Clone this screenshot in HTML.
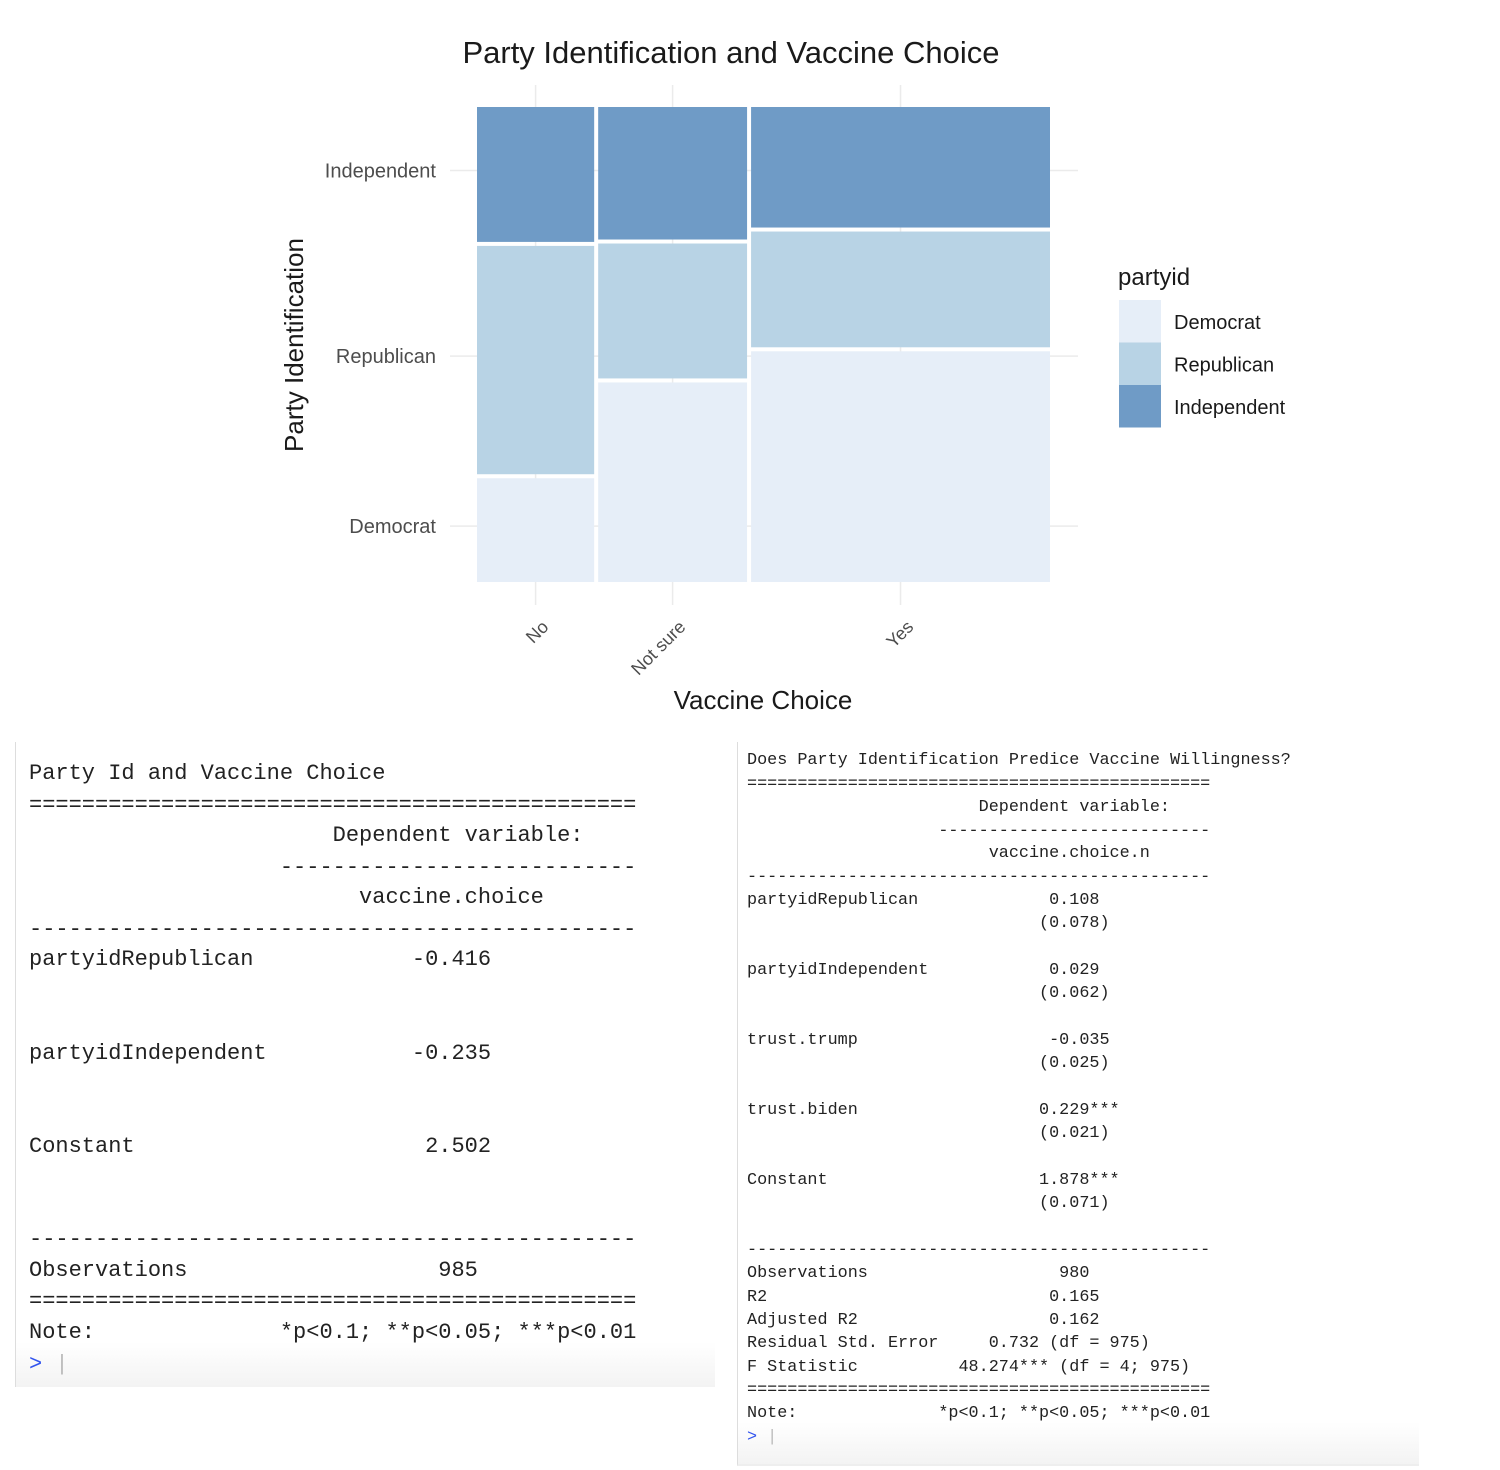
<!DOCTYPE html>
<html><head><meta charset="utf-8">
<style>
body{margin:0;background:#fff;width:1500px;height:1470px;position:relative;overflow:hidden;font-family:"Liberation Sans",sans-serif}
.tbl{position:absolute;font-family:"Liberation Mono",monospace;white-space:pre;color:#222}
.ln{position:absolute;left:0}
</style></head><body>
<svg width="1500" height="730" style="position:absolute;left:0;top:0" id="chart">
<text x="731" y="63" text-anchor="middle" font-size="31" fill="#1a1a1a">Party Identification and Vaccine Choice</text>
<text x="763" y="709" text-anchor="middle" font-size="26" fill="#1a1a1a">Vaccine Choice</text>
<text transform="translate(303,345) rotate(-90)" text-anchor="middle" font-size="26" fill="#1a1a1a">Party Identification</text>
<text x="1118" y="285" font-size="24" fill="#1a1a1a">partyid</text>
</svg>
<script>
const categories=["No","Not sure","Yes"];
const colWidths=[0.21,0.265,0.525];
const parties=["Democrat","Republican","Independent"];
const demShare=[0.225,0.425,0.49];
const repShare=[0.485,0.29,0.25];
const indShare=[0.29,0.285,0.26];
const colors=["#e6eef8","#b8d3e5","#6f9bc6"];
const NS="http://www.w3.org/2000/svg";
const svg=document.getElementById("chart");
const X0=477,X1=1050,Y0=582,Y1=107,GAP=4;
const xs=v=>X0+v*(X1-X0+GAP);
const ys=v=>Y0-v*(Y0-Y1+GAP);
function mk(t,a){const e=document.createElementNS(NS,t);for(const k in a)e.setAttribute(k,a[k]);svg.appendChild(e);return e;}
// gridlines
const series=[demShare,repShare,indShare];
let cum=0;const centers=[];
colWidths.forEach((w,i)=>{centers.push(xs(cum+w/2)-GAP/2);cum+=w;});
centers.forEach(c=>{const g=mk("line",{x1:c,x2:c,y1:85,y2:605,stroke:"#ebebeb","stroke-width":1.5});

});
let ycum=0;const ycent=[];
series.forEach(s=>{ycent.push(ys(ycum+s[0]/2)-GAP/2+ (0));ycum+=s[0];});
ycent.forEach(c=>{const g=mk("line",{x1:450,x2:1078,y1:c,y2:c,stroke:"#ebebeb","stroke-width":1.5});

});
// tiles
cum=0;
colWidths.forEach((w,i)=>{
  let yc=0;
  series.forEach((s,j)=>{
    const x=xs(cum),wpx=xs(cum+w)-x-GAP;
    const yTop=ys(yc+s[i]),h=ys(yc)-yTop-GAP;
    const r=mk("rect",{x:x,y:yTop+GAP,width:wpx,height:h,fill:colors[j]});
    
    
    yc+=s[i];
  });
  cum+=w;
});
// y tick labels
parties.forEach((p,j)=>{const t=mk("text",{x:436,y:ycent[j]+7,"text-anchor":"end","font-size":20,fill:"#4d4d4d"});t.textContent=p;

});
// x tick labels
categories.forEach((c,i)=>{const t=mk("text",{transform:`translate(${centers[i]+14},${628}) rotate(-45)`,"text-anchor":"end","font-size":18,fill:"#4d4d4d"});t.textContent=c;

});
// legend
parties.forEach((p,j)=>{const r=mk("rect",{x:1119,y:300+j*42.5,width:42,height:42.5,fill:colors[j]});


const t=mk("text",{x:1174,y:329+j*42.5,"font-size":20,fill:"#1a1a1a"});t.textContent=p;

});
</script>

<div style="position:absolute;left:15px;top:742px;width:699px;height:645px;border-left:1px solid #ddd;background:linear-gradient(to bottom,#fff 0,#fff 600px,#f3f3f3 645px)"></div>
<div style="position:absolute;left:737px;top:742px;width:681px;height:722px;border-left:1px solid #ddd;border-bottom:2px solid #eee;background:linear-gradient(to bottom,#fff 0,#fff 680px,#f3f3f3 722px)"></div>

<div class="tbl" style="left:29px;top:0;font-size:22px;line-height:31px">
<div class="ln" style="top:758px">Party Id and Vaccine Choice</div>
<div class="ln" style="top:790px">==============================================</div>
<div class="ln" style="top:820px">                       Dependent variable:</div>
<div class="ln" style="top:852px">                   ---------------------------</div>
<div class="ln" style="top:882px">                         vaccine.choice</div>
<div class="ln" style="top:914px">----------------------------------------------</div>
<div class="ln" style="top:944px">partyidRepublican            -0.416</div>
<div class="ln" style="top:1038px">partyidIndependent           -0.235</div>
<div class="ln" style="top:1131px">Constant                      2.502</div>
<div class="ln" style="top:1224px">----------------------------------------------</div>
<div class="ln" style="top:1255px">Observations                   985</div>
<div class="ln" style="top:1286px">==============================================</div>
<div class="ln" style="top:1317px">Note:              *p&lt;0.1; **p&lt;0.05; ***p&lt;0.01</div>
<div class="ln" style="top:1349px"><span style="color:#3355ee">&gt;</span> <span style="color:#bbb">|</span></div>
</div>

<div class="tbl" style="left:747px;top:0;font-size:16.8px;line-height:23px">
<div class="ln" style="top:749px">Does Party Identification Predice Vaccine Willingness?</div>
<div class="ln" style="top:773px">==============================================</div>
<div class="ln" style="top:796px">                       Dependent variable:</div>
<div class="ln" style="top:820px">                   ---------------------------</div>
<div class="ln" style="top:842px">                        vaccine.choice.n</div>
<div class="ln" style="top:866px">----------------------------------------------</div>
<div class="ln" style="top:889px">partyidRepublican             0.108</div>
<div class="ln" style="top:912px">                             (0.078)</div>
<div class="ln" style="top:959px">partyidIndependent            0.029</div>
<div class="ln" style="top:982px">                             (0.062)</div>
<div class="ln" style="top:1029px">trust.trump                   -0.035</div>
<div class="ln" style="top:1052px">                             (0.025)</div>
<div class="ln" style="top:1099px">trust.biden                  0.229***</div>
<div class="ln" style="top:1122px">                             (0.021)</div>
<div class="ln" style="top:1169px">Constant                     1.878***</div>
<div class="ln" style="top:1192px">                             (0.071)</div>
<div class="ln" style="top:1239px">----------------------------------------------</div>
<div class="ln" style="top:1262px">Observations                   980</div>
<div class="ln" style="top:1286px">R2                            0.165</div>
<div class="ln" style="top:1309px">Adjusted R2                   0.162</div>
<div class="ln" style="top:1332px">Residual Std. Error     0.732 (df = 975)</div>
<div class="ln" style="top:1356px">F Statistic          48.274*** (df = 4; 975)</div>
<div class="ln" style="top:1379px">==============================================</div>
<div class="ln" style="top:1402px">Note:              *p&lt;0.1; **p&lt;0.05; ***p&lt;0.01</div>
<div class="ln" style="top:1426px"><span style="color:#3355ee">&gt;</span> <span style="color:#bbb">|</span></div>
</div>
</body></html>
